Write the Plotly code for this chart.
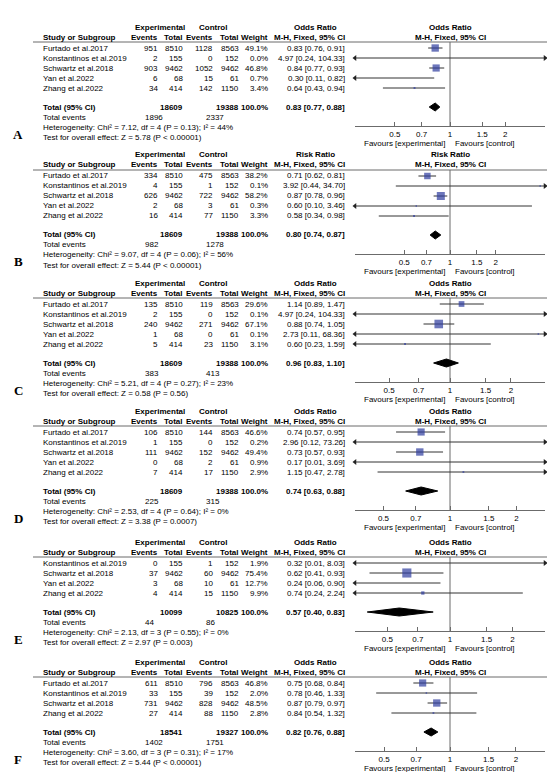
import math

import plotly.graph_objects as go

W, H = 555, 772

# ---- data -------------------------------------------------------------
STUDIES_5 = ["Furtado et al.2017", "Konstantinos et al.2019", "Schwartz et al.2018",
             "Yan et al.2022", "Zhang et al.2022"]
EXP_TOTAL_5 = [8510, 155, 9462, 68, 414]
CTRL_TOTAL_5 = [8563, 152, 9462, 61, 1150]

STUDIES_E = ["Konstantinos et al.2019", "Schwartz et al.2018", "Yan et al.2022", "Zhang et al.2022"]
EXP_TOTAL_E = [155, 9462, 68, 414]
CTRL_TOTAL_E = [152, 9462, 61, 1150]

STUDIES_F = ["Furtado et al.2017", "Konstantinos et al.2019", "Schwartz et al.2018", "Zhang et al.2022"]
EXP_TOTAL_F = [8510, 155, 9462, 414]
CTRL_TOTAL_F = [8563, 152, 9462, 1150]

a_exp_events = [951, 2, 903, 6, 34]
a_ctrl_events = [1128, 0, 1052, 15, 142]
a_weight = [49.1, 0.0, 46.8, 0.7, 3.4]
a_est = [0.83, 4.97, 0.84, 0.30, 0.64]
a_lo = [0.76, 0.24, 0.77, 0.11, 0.43]
a_hi = [0.91, 104.33, 0.93, 0.82, 0.94]
a_total = [18609, 19388, 0.83, 0.77, 0.88]
a_events = [1896, 2337]
a_het = ["7.12", "4", "0.13", "44"]
a_test = ["5.78", "< 0.00001"]

b_exp_events = [334, 4, 626, 2, 16]
b_ctrl_events = [475, 1, 722, 3, 77]
b_weight = [38.2, 0.1, 58.2, 0.3, 3.3]
b_est = [0.71, 3.92, 0.87, 0.60, 0.58]
b_lo = [0.62, 0.44, 0.78, 0.10, 0.34]
b_hi = [0.81, 34.70, 0.96, 3.46, 0.98]
b_total = [18609, 19388, 0.80, 0.74, 0.87]
b_events = [982, 1278]
b_het = ["9.07", "4", "0.06", "56"]
b_test = ["5.44", "< 0.00001"]

c_exp_events = [135, 2, 240, 1, 5]
c_ctrl_events = [119, 0, 271, 0, 23]
c_weight = [29.6, 0.1, 67.1, 0.1, 3.1]
c_est = [1.14, 4.97, 0.88, 2.73, 0.60]
c_lo = [0.89, 0.24, 0.74, 0.11, 0.23]
c_hi = [1.47, 104.33, 1.05, 68.36, 1.59]
c_total = [18609, 19388, 0.96, 0.83, 1.10]
c_events = [383, 413]
c_het = ["5.21", "4", "0.27", "23"]
c_test = ["0.58", "= 0.56"]

d_exp_events = [106, 1, 111, 0, 7]
d_ctrl_events = [144, 0, 152, 2, 17]
d_weight = [46.6, 0.2, 49.4, 0.9, 2.9]
d_est = [0.74, 2.96, 0.73, 0.17, 1.15]
d_lo = [0.57, 0.12, 0.57, 0.01, 0.47]
d_hi = [0.95, 73.26, 0.93, 3.69, 2.78]
d_total = [18609, 19388, 0.74, 0.63, 0.88]
d_events = [225, 315]
d_het = ["2.53", "4", "0.64", "0"]
d_test = ["3.38", "= 0.0007"]

e_exp_events = [0, 37, 3, 4]
e_ctrl_events = [1, 60, 10, 15]
e_weight = [1.9, 75.4, 12.7, 9.9]
e_est = [0.32, 0.62, 0.24, 0.74]
e_lo = [0.01, 0.41, 0.06, 0.24]
e_hi = [8.03, 0.93, 0.90, 2.24]
e_total = [10099, 10825, 0.57, 0.40, 0.83]
e_events = [44, 86]
e_het = ["2.13", "3", "0.55", "0"]
e_test = ["2.97", "= 0.003"]

f_exp_events = [611, 33, 731, 27]
f_ctrl_events = [796, 39, 828, 88]
f_weight = [46.8, 2.0, 48.5, 2.8]
f_est = [0.75, 0.78, 0.87, 0.84]
f_lo = [0.68, 0.46, 0.79, 0.54]
f_hi = [0.84, 1.33, 0.97, 1.32]
f_total = [18541, 19327, 0.82, 0.76, 0.88]
f_events = [1402, 1751]
f_het = ["3.60", "3", "0.31", "17"]
f_test = ["5.44", "< 0.00001"]

TICK_VALS = [0.5, 0.7, 1, 1.5, 2]
TICK_TEXT = ["0.5", "0.7", "1", "1.5", "2"]

PANELS = [
    ("A", "Odds Ratio", STUDIES_5, a_exp_events, EXP_TOTAL_5, a_ctrl_events, CTRL_TOTAL_5,
     a_weight, a_est, a_lo, a_hi, a_total, a_events, a_het, a_test),
    ("B", "Risk Ratio", STUDIES_5, b_exp_events, EXP_TOTAL_5, b_ctrl_events, CTRL_TOTAL_5,
     b_weight, b_est, b_lo, b_hi, b_total, b_events, b_het, b_test),
    ("C", "Odds Ratio", STUDIES_5, c_exp_events, EXP_TOTAL_5, c_ctrl_events, CTRL_TOTAL_5,
     c_weight, c_est, c_lo, c_hi, c_total, c_events, c_het, c_test),
    ("D", "Odds Ratio", STUDIES_5, d_exp_events, EXP_TOTAL_5, d_ctrl_events, CTRL_TOTAL_5,
     d_weight, d_est, d_lo, d_hi, d_total, d_events, d_het, d_test),
    ("E", "Odds Ratio", STUDIES_E, e_exp_events, EXP_TOTAL_E, e_ctrl_events, CTRL_TOTAL_E,
     e_weight, e_est, e_lo, e_hi, e_total, e_events, e_het, e_test),
    ("F", "Odds Ratio", STUDIES_F, f_exp_events, EXP_TOTAL_F, f_ctrl_events, CTRL_TOTAL_F,
     f_weight, f_est, f_lo, f_hi, f_total, f_events, f_het, f_test),
]

# ---- layout constants (pixels) ----------------------------------------
FIRST_ROW_PX = [40, 168, 296, 424, 555, 675]   # y of first study row per panel
HALF_RANGE = [0.519, 0.625, 0.469, 0.430, 0.457, 0.434]  # log10 half width of each axis
PLOT_X0, PLOT_X1 = 347, 537
ROW_PX = 10
COL = {"study": 33, "ee": 152, "et": 177, "ce": 207, "ct": 233, "w": 262, "ci": 339,
       "sum_ee": 135, "sum_ce": 196, "exp_hdr": 152, "ctrl_hdr": 205, "meas_hdr": 307}
SQUARE_BLUE = "#2E3C9E"
LINE_GREY = "#6b6b6b"
FONT = "Liberation Sans, Arial, sans-serif"

fig = go.Figure()
annotations = []
shapes = []


def txt(text, px, y, yref, anchor="left", bold=False, **kw):
    annotations.append(dict(
        x=px / W, xref="paper", y=y, yref=yref,
        text=f"<b>{text}</b>" if bold else text,
        xanchor=anchor, yanchor="middle", showarrow=False, **kw))


for k, panel in enumerate(PANELS):
    (letter, measure, studies, ee, et, ce, ct, weight, est, lo, hi,
     total, events, het, test) = panel
    n = len(studies)
    sfx = "" if k == 0 else str(k + 1)
    xref, yref = "x" + sfx, "y" + sfx

    total_y = n + 0.9
    axis_y = n + 2.8
    fav_y = axis_y + 1.7
    y_top, y_bot = -2.8, fav_y + 0.6
    r0 = FIRST_ROW_PX[k]
    top_px = r0 + y_top * ROW_PX
    bottom_px = r0 + y_bot * ROW_PX
    axis_px = r0 + axis_y * ROW_PX
    hr = HALF_RANGE[k]

    fig.update_layout(**{
        "xaxis" + sfx: dict(
            type="log", range=[-hr, hr], domain=[PLOT_X0 / W, PLOT_X1 / W],
            anchor="free", position=1 - axis_px / H,
            showline=True, linecolor=LINE_GREY, linewidth=1, ticks="inside", ticklen=4,
            tickcolor=LINE_GREY, tickvals=TICK_VALS, ticktext=TICK_TEXT,
            tickfont=dict(size=8, color="#000"), showgrid=False, zeroline=False, fixedrange=True),
        "yaxis" + sfx: dict(
            range=[y_bot, y_top], domain=[1 - bottom_px / H, 1 - top_px / H], anchor=xref,
            visible=False, fixedrange=True),
    })

    # line of no effect
    fig.add_trace(go.Scatter(x=[1, 1], y=[-0.6, axis_y], mode="lines", xaxis=xref, yaxis=yref,
                             line=dict(color=LINE_GREY, width=1), hoverinfo="skip"))

    # confidence intervals
    cx, cy = [], []
    for i in range(n):
        cx += [lo[i], hi[i], None]
        cy += [i, i, None]
    fig.add_trace(go.Scatter(x=cx, y=cy, mode="lines", xaxis=xref, yaxis=yref,
                             line=dict(color="#333", width=1), hoverinfo="skip"))

    # arrows where the interval runs off the axis
    xmin, xmax = 10 ** -hr, 10 ** hr
    lx = [xmin for i in range(n) if lo[i] < xmin]
    ly = [i for i in range(n) if lo[i] < xmin]
    rx = [xmax for i in range(n) if hi[i] > xmax]
    ry = [i for i in range(n) if hi[i] > xmax]
    fig.add_trace(go.Scatter(x=lx, y=ly, mode="markers", xaxis=xref, yaxis=yref, cliponaxis=False,
                             marker=dict(symbol="triangle-left", size=5, color="#222"), hoverinfo="skip"))
    fig.add_trace(go.Scatter(x=rx, y=ry, mode="markers", xaxis=xref, yaxis=yref, cliponaxis=False,
                             marker=dict(symbol="triangle-right", size=5, color="#222"), hoverinfo="skip"))

    # weighted squares
    keep = [i for i in range(n) if weight[i] > 0]
    fig.add_trace(go.Scatter(
        x=[est[i] for i in keep], y=keep, mode="markers", xaxis=xref, yaxis=yref,
        marker=dict(symbol="square", color=SQUARE_BLUE, line=dict(width=0),
                    size=[max(1.5, 1.05 * math.sqrt(weight[i])) for i in keep]),
        hoverinfo="skip"))

    # pooled diamond
    t_est, t_lo, t_hi = total[2], total[3], total[4]
    fig.add_trace(go.Scatter(
        x=[t_lo, t_est, t_hi, t_est, t_lo], y=[total_y, total_y - 0.4, total_y, total_y + 0.4, total_y],
        mode="lines", fill="toself", fillcolor="#000", line=dict(color="#000", width=1),
        xaxis=xref, yaxis=yref, hoverinfo="skip"))

    # header rule
    shapes.append(dict(type="line", xref="paper", yref=yref, x0=25 / W, x1=543 / W, y0=-0.6, y1=-0.6,
                       line=dict(color=LINE_GREY, width=1)))

    # headers
    h1, h2 = -2.1, -1.1
    txt("Experimental", COL["exp_hdr"], h1, yref, "center", True)
    txt("Control", COL["ctrl_hdr"], h1, yref, "center", True)
    txt(measure, COL["meas_hdr"], h1, yref, "center", True)
    txt("Study or Subgroup", COL["study"], h2, yref, "left", True)
    txt("Events", COL["ee"], h2, yref, "right", True)
    txt("Total", COL["et"], h2, yref, "right", True)
    txt("Events", COL["ce"], h2, yref, "right", True)
    txt("Total", COL["ct"], h2, yref, "right", True)
    txt("Weight", COL["w"], h2, yref, "right", True)
    txt("M-H, Fixed, 95% CI", COL["ci"], h2, yref, "right", True)
    for yy, label in ((h1, measure), (h2, "M-H, Fixed, 95% CI")):
        annotations.append(dict(x=0, xref=xref, y=yy, yref=yref, text=f"<b>{label}</b>",
                                xanchor="center", yanchor="middle", showarrow=False))

    # study rows
    for i in range(n):
        txt(studies[i], COL["study"], i, yref)
        txt(str(ee[i]), COL["ee"], i, yref, "right")
        txt(str(et[i]), COL["et"], i, yref, "right")
        txt(str(ce[i]), COL["ce"], i, yref, "right")
        txt(str(ct[i]), COL["ct"], i, yref, "right")
        txt(f"{weight[i]:.1f}%", COL["w"], i, yref, "right")
        txt(f"{est[i]:.2f} [{lo[i]:.2f}, {hi[i]:.2f}]", COL["ci"], i, yref, "right")

    # totals
    txt("Total (95% CI)", COL["study"], total_y, yref, "left", True)
    txt(str(total[0]), COL["et"], total_y, yref, "right", True)
    txt(str(total[1]), COL["ct"], total_y, yref, "right", True)
    txt("100.0%", COL["w"], total_y, yref, "right", True)
    txt(f"{t_est:.2f} [{t_lo:.2f}, {t_hi:.2f}]", COL["ci"], total_y, yref, "right", True)
    txt("Total events", COL["study"], total_y + 1, yref)
    txt(str(events[0]), COL["sum_ee"], total_y + 1, yref)
    txt(str(events[1]), COL["sum_ce"], total_y + 1, yref)
    txt(f"Heterogeneity: Chi² = {het[0]}, df = {het[1]} (P = {het[2]}); I² = {het[3]}%",
        COL["study"], total_y + 2, yref)
    txt(f"Test for overall effect: Z = {test[0]} (P {test[1]})", COL["study"], total_y + 3, yref)
    txt(f"<b>{letter}</b>", 10, total_y + 2.7, yref, "center",
        font=dict(family="Liberation Serif, Times New Roman, serif", size=13, color="#000"))

    # favours labels
    annotations.append(dict(x=0, xref=xref, y=fav_y, yref=yref, text="Favours [experimental]",
                            xanchor="right", yanchor="middle", xshift=-3, showarrow=False))
    annotations.append(dict(x=0, xref=xref, y=fav_y, yref=yref, text="Favours [control]",
                            xanchor="left", yanchor="middle", xshift=3, showarrow=False))

fig.update_layout(
    width=W, height=H, margin=dict(l=0, r=0, t=0, b=0),
    paper_bgcolor="white", plot_bgcolor="white", showlegend=False,
    font=dict(family=FONT, size=8, color="#000"),
    annotations=annotations, shapes=shapes,
)

fig.write_html("out.html")
